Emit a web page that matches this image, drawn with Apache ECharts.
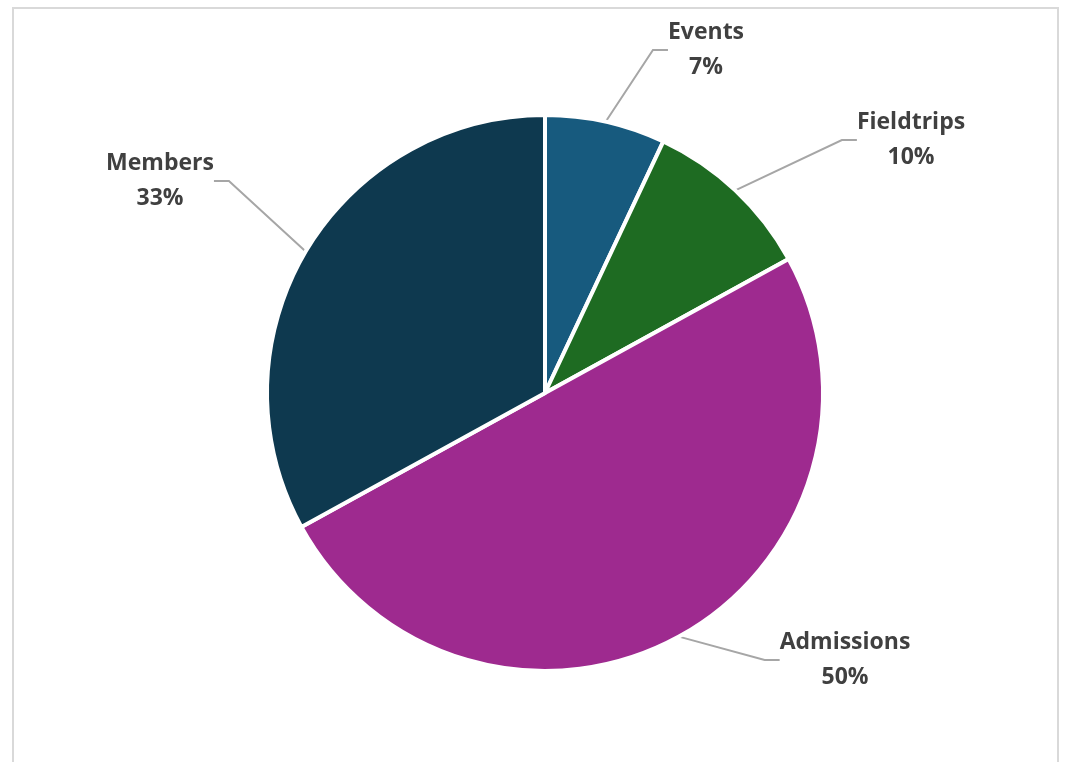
<!DOCTYPE html>
<html>
<head>
<meta charset="utf-8">
<script src="https://cdn.jsdelivr.net/npm/echarts@6/dist/echarts.min.js"></script>
<style>
html,body{margin:0;padding:0;background:#fff;}
#chart{width:1065px;height:762px;}
</style>
</head>
<body>
<div id="chart"></div>
<script>
var categories = ['Events', 'Fieldtrips', 'Admissions', 'Members'];
var values = [7, 10, 50, 33];
var colors = ['#175a7e', '#1e6b22', '#9e2a8f', '#0e394f'];
// label block centres (layout only), same order as categories
var labelPos = [[706, 50], [911, 140], [845, 660], [160, 181]];

var chart = echarts.init(document.getElementById('chart'), null, {renderer: 'canvas'});
var data = categories.map(function (c, i) {
  return {name: c, value: values[i], itemStyle: {color: colors[i]}};
});
chart.setOption({
  animation: false,
  graphic: [{
    type: 'rect',
    shape: {x: 13, y: 8, width: 1045, height: 770},
    style: {fill: 'none', stroke: '#d9d9d9', lineWidth: 2}
  }],
  series: [{
    type: 'pie',
    center: [545, 393],
    radius: 278,
    startAngle: 90,
    clockwise: true,
    data: data,
    itemStyle: {borderColor: '#ffffff', borderWidth: 4},
    label: {
      show: true,
      formatter: '{b}\n{d}%',
      fontFamily: 'Open Sans',
      fontWeight: 'bold',
      fontSize: 23,
      lineHeight: 35,
      color: '#404040',
      align: 'center'
    },
    labelLine: {
      show: true,
      length: 20,
      length2: 15,
      lineStyle: {color: '#a6a6a6', width: 2}
    },
    labelLayout: function (p) {
      var pos = labelPos[p.dataIndex];
      return {x: pos[0], y: pos[1], align: 'center', verticalAlign: 'middle'};
    }
  }]
});
</script>
</body>
</html>
